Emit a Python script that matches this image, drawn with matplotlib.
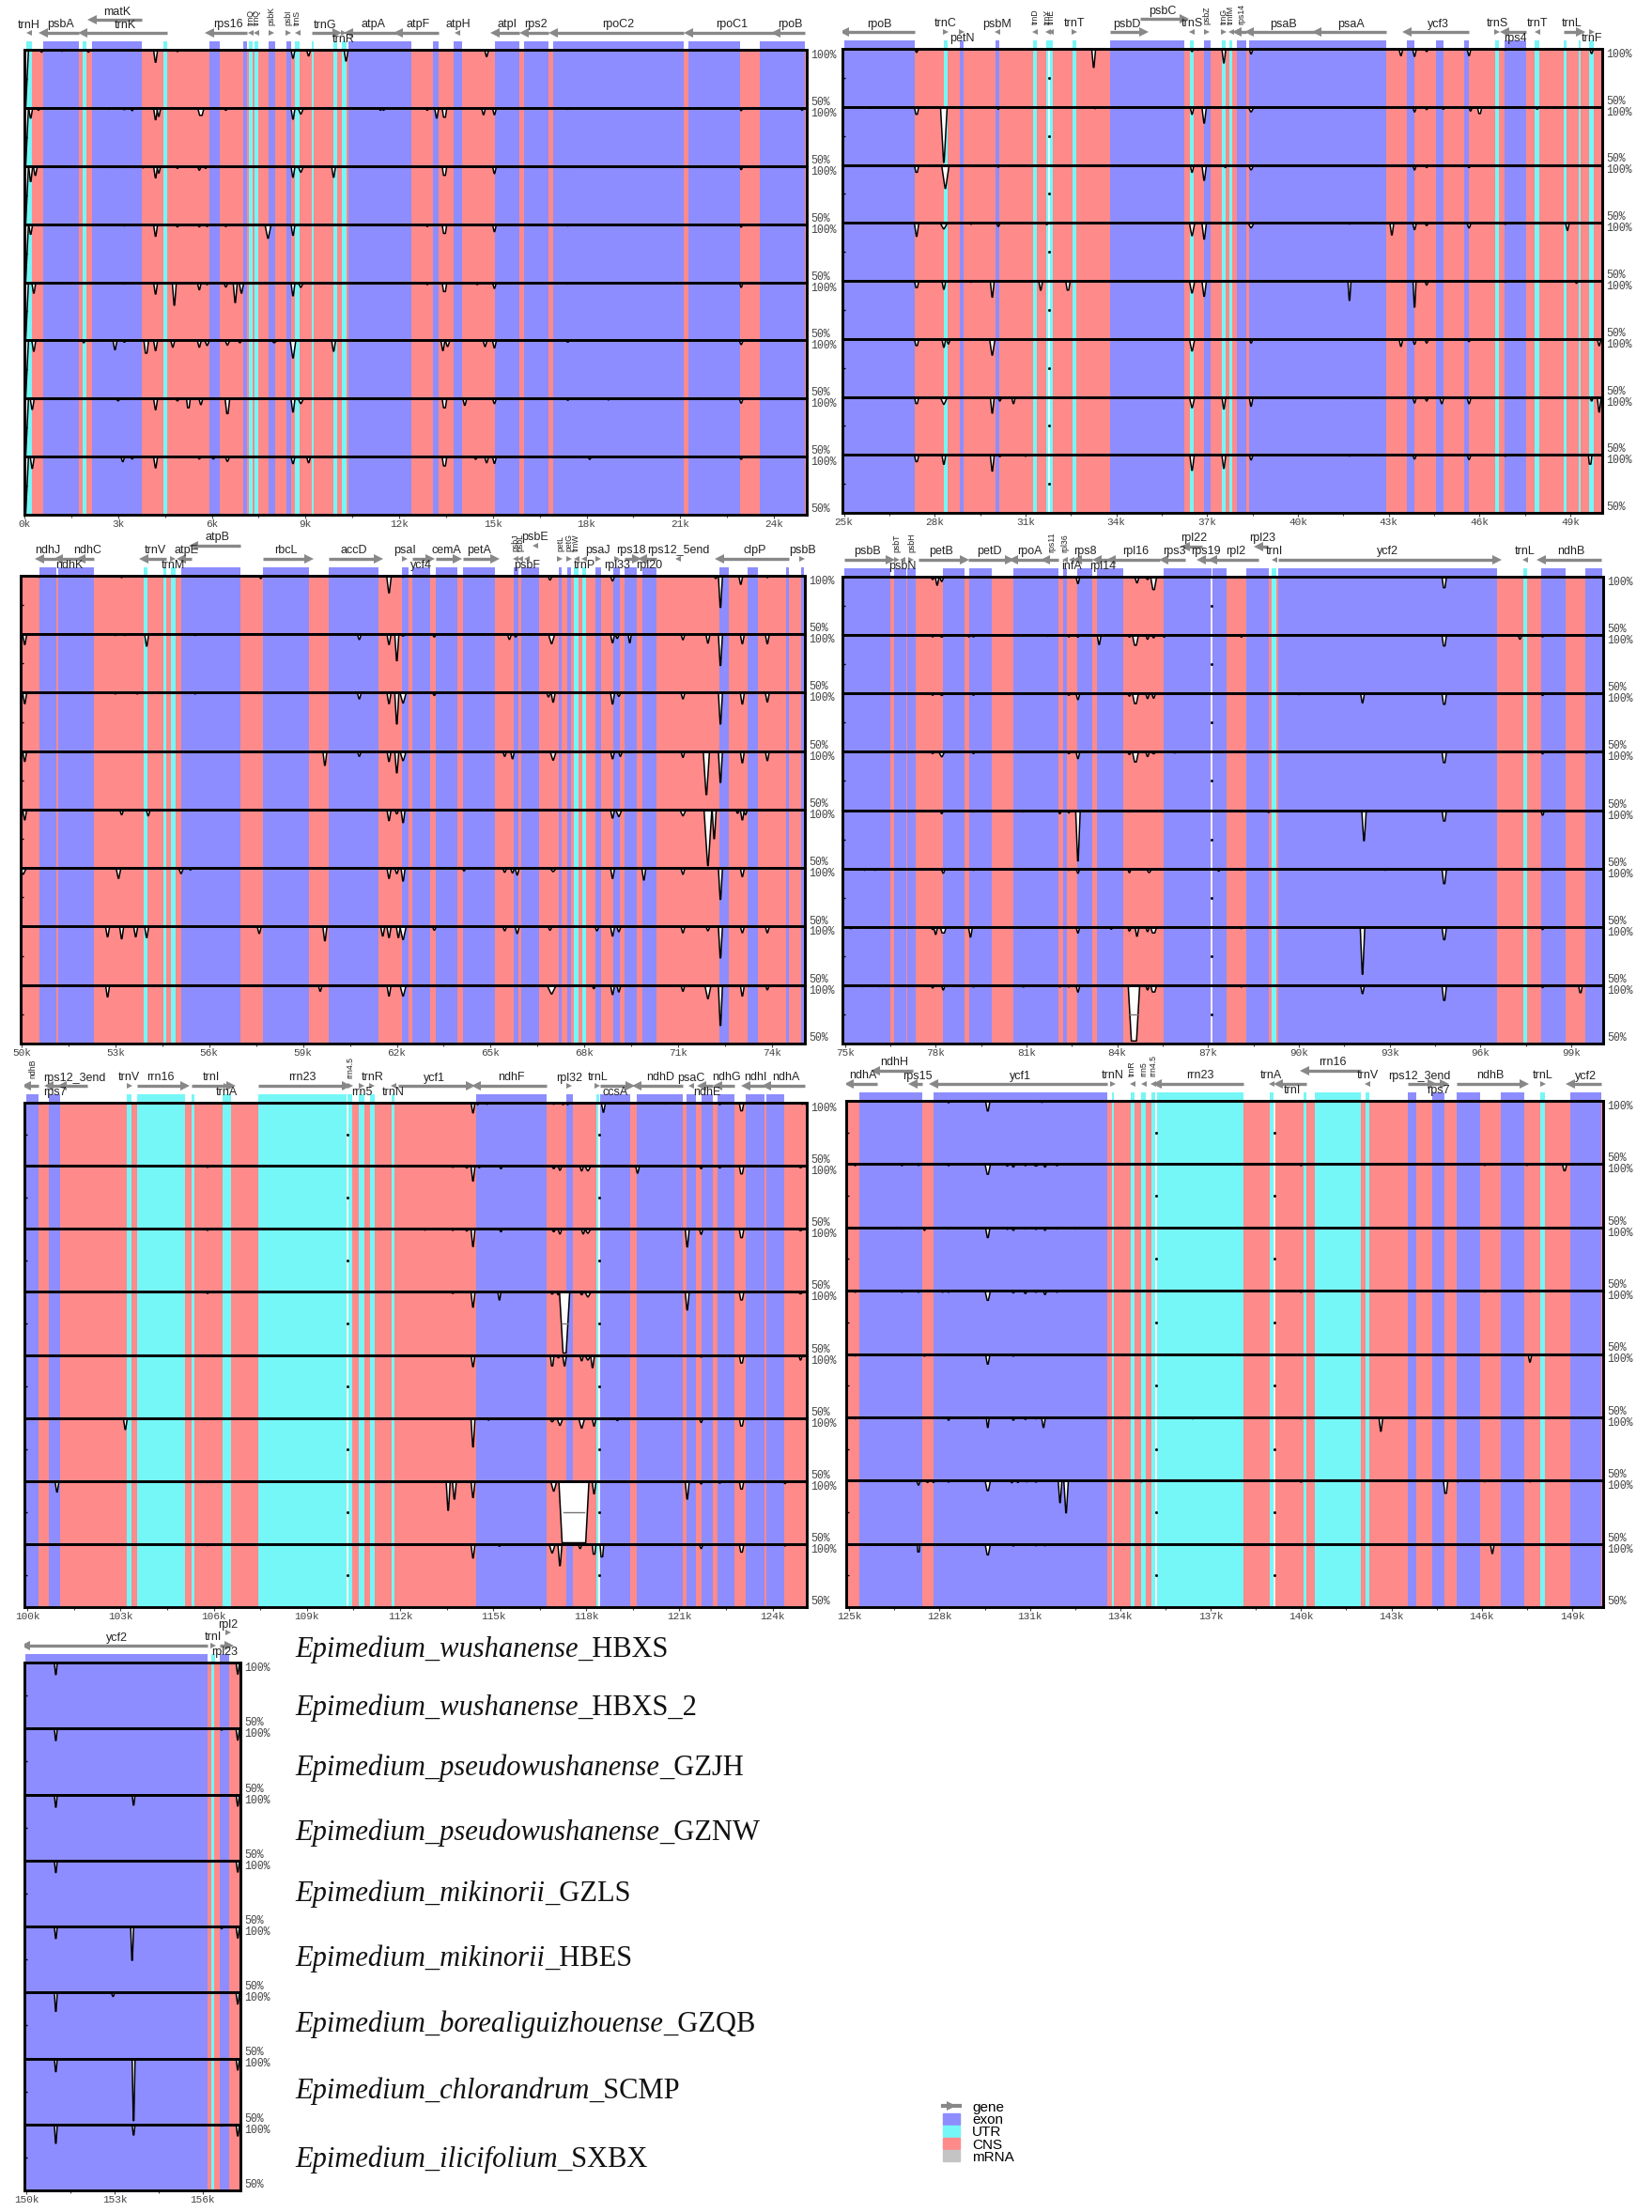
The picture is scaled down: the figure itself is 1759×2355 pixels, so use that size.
import numpy as np
import matplotlib
matplotlib.use("Agg")
import matplotlib.pyplot as plt
from matplotlib.lines import Line2D
from matplotlib.patches import Patch
from matplotlib.ticker import FixedLocator

W, H = 1759, 2355
EXON = "#8D8DFF"
UTR = "#75F7F7"
CNS = "#FF8A8A"
MRNA = "#C4C4C4"
GENE = "#888888"
SANS = "Liberation Sans"
MONO = "Liberation Mono"

# gene label placement
TOP, BELOW, UPPER, ROT = 0, -1, 1, 2
L, R = -1, 1

species_names = ["Epimedium_wushanense", "Epimedium_wushanense", "Epimedium_pseudowushanense",
                 "Epimedium_pseudowushanense", "Epimedium_mikinorii", "Epimedium_mikinorii",
                 "Epimedium_borealiguizhouense", "Epimedium_chlorandrum", "Epimedium_ilicifolium"]
sample_codes = ["_HBXS", "_HBXS_2", "_GZJH", "_GZNW", "_GZLS", "_HBES", "_GZQB", "_SCMP", "_SXBX"]

# ---- 0k-25k
exon1 = [(.59, 1.74), (2.16, 3.77), (5.93, 6.27), (7.01, 7.13), (7.82, 8.02), (8.38, 8.53), (10.37, 12.4),
         (13.07, 13.26), (13.73, 14.02), (15.07, 15.86), (16.0, 16.77), (16.94, 21.11), (21.25, 22.9), (23.56, 25.0)]
utr1 = [(.07, .24), (1.86, 1.98), (4.46, 4.58), (7.2, 7.31), (7.36, 7.5), (8.67, 8.82), (9.2, 9.26),
        (9.9, 10.02), (10.15, 10.3)]
gaps1 = []
genes1 = [("trnH", .07, .24, L, TOP), ("psbA", .59, 1.74, L, TOP), ("matK", 2.16, 3.77, L, UPPER),
          ("trnK", 1.86, 4.58, L, TOP), ("rps16", 5.93, 7.13, L, TOP), ("trnQ", 7.2, 7.31, L, ROT),
          ("trnQ", 7.36, 7.5, L, ROT), ("psbK", 7.82, 8.02, R, ROT), ("psbI", 8.38, 8.53, R, ROT),
          ("trnS", 8.67, 8.82, L, ROT), ("trnG", 9.2, 10.02, R, TOP), ("trnR", 10.15, 10.3, R, BELOW),
          ("atpA", 10.37, 11.97, L, TOP), ("atpF", 11.97, 13.26, L, TOP), ("atpH", 13.73, 14.02, L, TOP),
          ("atpI", 15.07, 15.86, L, TOP), ("rps2", 16.0, 16.77, L, TOP), ("rpoC2", 16.94, 21.11, L, TOP),
          ("rpoC1", 21.25, 24.06, L, TOP), ("rpoB", 24.06, 25.0, L, TOP)]
dips1 = [
    [(.03, 50, .2), (.55, 98), (1.2, 98.8), (2.05, 98), (4.2, 89.3), (4.9, 98.5), (8.6, 92.8), (9.1, 94.8),
     (10.3, 90.4), (14.8, 94.2)],
    [(.03, 50, .2), (.2, 91.3), (.45, 98), (2.7, 98.8), (3.2, 98.5), (3.45, 97.7), (4.2, 89.9), (4.3, 92.8),
     (5.65, 93.6, .2, .08), (6.45, 98, .15), (8.6, 90.4), (8.85, 94.8, .18), (9.0, 98.8), (11.4, 98), (11.5, 98),
     (12.9, 98), (13.2, 91.3), (13.45, 92, .15, .06), (14.7, 94.2), (15.05, 94.2), (17.4, 98.8), (22.95, 97.7, .12),
     (24.9, 98)],
    [(.03, 50, .2), (.2, 86.7), (.35, 92), (2.7, 98.8), (3.2, 98.8), (3.8, 98.5), (4.2, 89.9), (4.3, 94), (4.9, 98),
     (5.6, 96.5), (5.8, 98), (8.6, 90.4), (8.85, 94.8, .18), (9.9, 90.4), (13.45, 92, .15, .06), (15.05, 93.6),
     (17.4, 98.8), (22.95, 97, .12)],
    [(.03, 50, .2), (.2, 91.3), (3.2, 98.5), (4.2, 89.6), (4.9, 97.7, .15), (5.6, 97.7), (5.85, 98), (6.45, 98, .15),
     (7.8, 87.9, .2, .02), (8.6, 90.4), (12.9, 98), (13.45, 92, .15, .06), (15.05, 93.6), (17.4, 98.5),
     (22.95, 97.5, .12)],
    [(.03, 50, .2), (.3, 90.7), (3.2, 98.5), (4.2, 89.9), (4.8, 80.3), (5.6, 93.6), (5.85, 98), (6.45, 96, .15),
     (6.75, 82.6), (6.95, 90.7, .15), (8.6, 88.4), (8.85, 95.7, .18), (12.9, 98), (13.45, 92, .15, .06),
     (14.5, 98, .15), (15.05, 94.8), (17.4, 98.5), (22.95, 95.7, .13)],
    [(.03, 50, .2), (.3, 90.7), (1.9, 98), (2.9, 92), (3.2, 98.5), (3.9, 89, .15, .05), (4.2, 91.3), (4.75, 94.2),
     (5.6, 94.2), (5.85, 95.7, .15), (6.5, 96, .15), (6.9, 98), (8.0, 98, .2), (8.6, 84.9, .18), (9.9, 90.7),
     (13.4, 91.3), (13.55, 94.8, .15), (14.75, 94.8), (15.05, 93.6), (17.4, 98.5), (22.95, 96.5, .13)],
    [(.03, 50, .2), (.25, 90.7), (3.0, 98, .15), (4.2, 90.4), (4.9, 98, .15), (5.25, 92, .12, .05), (5.65, 94.8),
     (6.5, 87, .15, .04), (8.6, 88.4), (8.85, 95.7, .18), (13.45, 92, .15, .06), (14.1, 94.2), (15.05, 95.7),
     (17.4, 98.5), (18.7, 98.8), (22.95, 96, .13)],
    [(.03, 50, .2), (.25, 89.9), (3.15, 95.7), (3.45, 98), (4.2, 90.4), (5.6, 98), (6.05, 98), (6.5, 96, .15),
     (8.6, 94), (9.1, 94.8), (13.45, 92, .15, .06), (14.45, 97.7), (14.8, 94.8), (15.05, 94.2), (18.1, 97.7),
     (22.95, 97.7, .12)],
]

# ---- 25k-50k
exon2 = [(25, 27.35), (28.83, 28.95), (30, 30.13), (33.8, 36.25), (36.88, 37.12), (37.97, 38.3), (38.39, 42.9),
         (43.6, 43.85), (44.56, 44.8), (45.5, 45.64), (46.83, 47.55)]
utr2 = [(28.3, 28.43), (31.26, 31.38), (31.68, 31.89), (32.55, 32.67), (36.43, 36.55), (37.49, 37.6), (37.73, 37.83),
        (46.51, 46.65), (47.83, 47.97), (48.77, 48.88), (49.26, 49.35), (49.63, 49.78)]
gaps2 = [31.78]
genes2 = [("rpoB", 25, 27.35, L, TOP), ("trnC", 28.3, 28.43, R, TOP), ("petN", 28.83, 28.95, R, BELOW),
          ("psbM", 30, 30.13, L, TOP), ("trnD", 31.26, 31.38, L, ROT), ("trnY", 31.68, 31.78, L, ROT),
          ("trnE", 31.79, 31.89, L, ROT), ("trnT", 32.55, 32.67, R, TOP), ("psbD", 33.8, 34.9, R, TOP),
          ("psbC", 34.8, 36.25, R, UPPER), ("trnS", 36.43, 36.55, L, TOP), ("psbZ", 36.88, 37.12, R, ROT),
          ("trnG", 37.49, 37.6, R, ROT), ("trnfM", 37.73, 37.83, L, ROT), ("rps14", 37.97, 38.3, L, ROT),
          ("psaB", 38.39, 40.63, L, TOP), ("psaA", 40.63, 42.9, L, TOP), ("ycf3", 43.6, 45.64, L, TOP),
          ("trnS", 46.51, 46.65, R, TOP), ("rps4", 46.83, 47.55, L, BELOW), ("trnT", 47.83, 47.97, L, TOP),
          ("trnL", 48.77, 49.35, R, TOP), ("trnF", 49.63, 49.78, R, BELOW)]
dips2 = [
    [(27.4, 97), (29.2, 99), (33.25, 84), (36.5, 97.7), (36.7, 98.8), (37.55, 87.9), (38.45, 95.7), (41.7, 99),
     (43.4, 94.2), (43.85, 93.6), (44.25, 97.7), (45.65, 94.2), (46.85, 98.8), (49.7, 96)],
    [(25.9, 98.8), (27.4, 93.6, .15, .05), (28.3, 52.2, .22), (29.2, 98.8), (30.1, 98), (33.3, 98.5), (36.5, 93.6),
     (36.9, 86, .15), (38.45, 95.7, .2), (41.7, 99), (43.85, 95.7), (44.25, 97.7), (44.8, 98, .2), (45.7, 96.5),
     (46.0, 94.2, .15, .05), (46.85, 98.8), (47.9, 98, .15)],
    [(27.4, 93.6, .15, .05), (28.35, 79.7, .25), (29.2, 98.8), (30.1, 98), (36.5, 93.6), (36.9, 86.7, .15), (37.6, 97.7),
     (38.45, 95.7, .2), (41.7, 99), (43.85, 95.7), (44.25, 97.7), (45.65, 97.7, .2), (46.85, 98.8)],
    [(27.4, 88.4, .15), (28.3, 94.8, .25), (29.2, 98.8), (30.1, 97), (31.7, 98.5), (36.5, 89, .18), (36.9, 86, .15),
     (38.45, 95.7, .2), (41.7, 99), (43.1, 89.6), (43.85, 94.2), (44.25, 97.7), (45.65, 95.7, .15), (46.85, 98.8),
     (48.9, 93.6)],
    [(27.4, 94.2, .15, .05), (28.3, 92.8), (29.2, 98.8), (29.9, 86), (31.5, 92), (32.4, 92, .15, .05), (36.5, 89.6, .18),
     (36.9, 86.7, .15), (41.7, 83.2, .1), (43.85, 77.4, .1), (44.25, 96.5), (46.85, 98.8), (49.2, 98)],
    [(27.4, 94.2, .15, .05), (28.3, 92.8), (28.45, 95.7), (29.9, 86, .18), (36.5, 89.6, .18), (38.45, 96.5), (41.7, 99),
     (43.4, 93.6), (43.85, 95.4), (44.25, 96.5, .15), (45.65, 97.7, .15), (46.85, 98.8), (49.95, 94.2)],
    [(27.4, 94.2, .15, .05), (28.3, 93.6, .25), (29.9, 86), (30.15, 96.5, .15), (30.6, 94.2), (36.5, 90.7, .18),
     (37.55, 89.6), (38.45, 92), (41.7, 99), (43.85, 94.8), (44.25, 96.5, .15), (44.75, 94.2, .15), (45.65, 94.2, .15),
     (46.85, 98.8), (49.7, 96.5), (49.95, 87)],
    [(27.4, 94.2, .15, .05), (28.3, 91.9), (29.9, 86), (30.15, 98.5), (31.0, 98.8), (36.5, 86.7, .15), (37.55, 88.4),
     (38.45, 95.7), (41.7, 99), (43.85, 96.5), (45.65, 96), (46.85, 98.8), (49.65, 92, .12, .05)],
]

# ---- 50k-75k
exon3 = [(50.57, 51.1), (51.16, 52.31), (55.11, 57.0), (57.72, 59.19), (59.81, 61.42), (62.17, 62.36), (62.5, 63.07),
         (63.24, 63.93), (64.11, 65.13), (65.75, 65.89), (65.99, 66.54), (67.17, 67.28), (67.44, 67.57), (68.35, 68.52),
         (68.92, 69.14), (69.29, 69.66), (69.86, 70.29), (72.33, 72.61), (73.22, 73.56), (74.45, 74.55), (74.92, 75.02)]
utr3 = [(53.91, 54.03), (54.54, 54.64), (54.77, 54.92), (67.67, 67.82), (67.92, 68.06)]
gaps3 = []
genes3 = [("ndhJ", 50.57, 51.1, L, TOP), ("ndhK", 51.16, 51.9, L, BELOW), ("ndhC", 51.9, 52.31, L, TOP),
          ("trnV", 53.91, 54.64, L, TOP), ("trnM", 54.77, 54.92, R, BELOW), ("atpE", 55.11, 55.45, L, TOP),
          ("atpB", 55.5, 57.0, L, UPPER), ("rbcL", 57.72, 59.19, R, TOP), ("accD", 59.81, 61.42, R, TOP),
          ("psaI", 62.17, 62.36, R, TOP), ("ycf4", 62.5, 63.07, R, BELOW), ("cemA", 63.24, 63.93, R, TOP),
          ("petA", 64.11, 65.13, R, TOP), ("psbJ", 65.75, 65.85, L, ROT), ("psbL", 65.9, 65.99, L, ROT),
          ("psbF", 66.1, 66.2, L, BELOW), ("psbE", 66.3, 66.54, L, UPPER), ("petL", 67.17, 67.28, R, ROT),
          ("petG", 67.44, 67.57, R, ROT), ("trnW", 67.67, 67.82, L, ROT), ("trnP", 67.92, 68.06, L, BELOW),
          ("psaJ", 68.35, 68.52, R, TOP), ("rpl33", 68.92, 69.14, R, BELOW), ("rps18", 69.29, 69.66, R, TOP),
          ("rpl20", 69.86, 70.29, L, BELOW), ("rps12_5end", 70.95, 71.06, L, TOP), ("clpP", 72.33, 74.55, L, TOP),
          ("psbB", 74.92, 75.02, R, TOP)]
dips3 = [
    [(50.55, 98.8), (53.2, 98.5), (55.65, 99), (57.65, 97.7, .12), (61.75, 85.4, .15), (62.2, 98.8), (66.9, 96.5, .15),
     (68.9, 95.7, .15), (72.2, 97.7), (72.35, 73), (73.0, 92.8), (73.85, 98.5)],
    [(50.1, 91.3), (53.0, 99), (53.3, 99), (54.0, 89.9), (55.55, 99), (60.8, 95.6), (61.75, 91.3), (62.0, 77.4),
     (62.2, 98.5, .2), (63.2, 97.7), (65.6, 95.7), (65.8, 97.7), (66.95, 92, .2), (68.9, 92.8), (69.05, 96.5),
     (69.45, 92.8, .1), (71.15, 95.4), (71.95, 92.5), (72.35, 73.3), (73.05, 92), (73.85, 92)],
    [(50.1, 90.7), (53.0, 99), (53.7, 99), (55.55, 99), (60.8, 94.8), (61.75, 90.7), (62.0, 73.3), (62.2, 91.3, .2),
     (63.2, 97.7), (66.85, 96.5), (67.0, 92), (68.9, 90.4), (69.1, 97), (71.15, 94.8), (72.35, 73.3), (73.05, 90.4),
     (73.85, 92.2)],
    [(50.1, 91.3), (53.0, 99), (53.7, 99), (55.55, 99), (59.7, 87.9), (60.8, 95.7), (61.75, 91.3), (62.0, 81.5),
     (62.2, 92, .2), (65.45, 95.7), (65.7, 93.6), (67.0, 92.4, .2), (68.9, 93.6), (69.15, 95.7), (71.15, 94.8),
     (71.9, 62.9, .2), (72.35, 73.3), (73.05, 90.1), (73.85, 92)],
    [(50.1, 91.3), (53.2, 95.7), (54.05, 94.8), (61.75, 90.7), (62.0, 96.5), (62.2, 89), (68.9, 92.8),
     (69.1, 94.2, .2), (71.15, 94.8, .2), (71.95, 52.2, .25), (72.15, 75.2), (72.9, 97), (73.05, 91.3), (73.15, 95.7)],
    [(50.05, 94.8, .2), (53.1, 91.3, .15), (55.1, 95.4, .15), (55.4, 98.5, .15), (61.75, 91.3), (62.0, 95.4), (62.2, 89),
     (64.15, 97.7), (65.45, 96.5), (65.7, 96), (65.85, 94.2), (67.0, 97, .2), (68.9, 91.3), (69.9, 89.9), (71.15, 94.8),
     (72.35, 73.3), (73.05, 92.8)],
    [(52.75, 91.3), (53.2, 89.6), (53.65, 91.3), (54.0, 90.7), (57.6, 94.2), (59.7, 87.9), (61.55, 92), (61.75, 90.7),
     (62.05, 90.7), (62.2, 89, .2), (63.2, 97), (65.45, 96.5), (65.85, 94.2), (66.9, 97), (68.4, 96.5), (68.9, 92),
     (69.1, 95.7), (71.15, 94.8), (71.95, 96.5), (72.35, 73.3), (73.05, 94.8), (73.85, 94.8)],
    [(52.75, 89.9), (59.55, 94.8), (61.75, 90.7), (62.2, 90.7, .2), (50.1, 99), (66.95, 92.4, .3), (68.3, 97), (68.9, 92),
     (69.1, 94.2), (71.15, 94.8), (71.95, 88.4, .2), (72.35, 65.5), (73.05, 90.7), (73.85, 96)],
]

# ---- 75k-100k
exon4 = [(74.97, 76.5), (76.62, 77.02), (77.05, 77.35), (78.24, 78.95), (79.12, 79.86), (80.57, 82.07), (82.2, 82.33),
         (82.69, 83.18), (83.32, 84.2), (85.53, 87.1), (87.15, 87.62), (88.25, 89.0), (89.33, 96.53), (98.01, 98.81),
         (99.47, 100.03)]
utr4 = [(89.1, 89.26), (97.4, 97.54)]
gaps4 = [87.12]
genes4 = [("psbB", 74.97, 76.5, R, TOP), ("psbT", 76.62, 76.8, R, ROT), ("psbN", 76.8, 77.02, L, BELOW),
          ("psbH", 77.05, 77.35, R, ROT), ("petB", 77.43, 78.95, R, TOP), ("petD", 79.09, 80.43, R, TOP),
          ("rpoA", 80.57, 81.62, L, TOP), ("rps11", 81.62, 82.07, L, ROT), ("rpl36", 82.2, 82.33, L, ROT),
          ("infA", 82.45, 82.55, L, BELOW), ("rps8", 82.69, 83.18, L, TOP), ("rpl14", 83.32, 83.75, L, BELOW),
          ("rpl16", 83.79, 85.4, L, TOP), ("rps3", 85.53, 86.25, L, TOP), ("rpl22", 86.23, 86.8, L, UPPER),
          ("rps19", 86.77, 87.1, L, TOP), ("rpl2", 87.15, 88.65, L, TOP), ("rpl23", 88.65, 88.96, L, UPPER),
          ("trnI", 89.1, 89.26, L, TOP), ("ycf2", 89.33, 96.53, R, TOP), ("trnL", 97.4, 97.54, L, TOP),
          ("ndhB", 98.01, 100.0, L, TOP)]
dips4 = [
    [(77.9, 97.7), (78.05, 92.8), (78.2, 96, .15), (79.0, 99), (82.15, 98.8), (82.7, 94.2), (84.65, 94.8, .15),
     (85.0, 97.7, .15), (85.2, 89, .2, .05), (94.8, 90.6, .15, .05)],
    [(77.9, 98.5), (78.2, 98.3, .2), (79.1, 98.5), (79.25, 98.5), (81.7, 99), (82.4, 98.5, .15), (82.7, 98.3),
     (83.4, 92), (84.4, 98.3), (84.6, 91.3, .2, .06), (85.0, 96.5), (85.2, 97.7), (85.55, 98.3), (88.1, 98.3),
     (94.8, 90.7, .15, .05), (97.3, 96.5), (98.05, 98.5), (99.5, 99)],
    [(77.9, 98.5), (78.2, 98.3, .2), (79.25, 98.5), (82.4, 98.5, .15), (82.7, 94.8), (84.4, 97.7), (84.6, 91.3, .2, .06),
     (85.0, 95.7), (85.2, 96), (90.0, 99), (92.1, 92), (94.8, 90.7, .15, .05), (98.05, 98.3), (99.5, 99)],
    [(77.9, 98.5), (78.2, 95.7, .2), (79.25, 98.5), (82.4, 98.5, .15), (82.7, 94.2), (84.4, 97.7), (84.6, 91.3, .2, .06),
     (85.0, 96), (85.2, 98.3, .2), (85.9, 99), (94.8, 90.7, .15, .05), (98.05, 98.3), (99.5, 99)],
    [(75.05, 98.5), (77.1, 98.5, .2), (78.2, 97), (79.25, 98.5), (80.9, 98.5, .15), (82.1, 97), (82.4, 97.7),
     (82.7, 56.5, .15), (84.4, 98.5), (85.5, 98.5), (88.1, 98.5), (89.0, 98, .15), (92.15, 73.8, .15),
     (94.8, 90.7, .15, .05), (97.1, 98.8), (98.05, 95.7), (99.5, 99)],
    [(75.65, 98.5), (76.0, 98.5), (78.25, 96, .15), (79.25, 98.5, .15), (82.4, 98.5, .15), (82.7, 96),
     (83.4, 98.8), (84.4, 96.5), (85.05, 96.5, .2), (87.35, 97.7), (88.1, 98.5), (92.85, 98.5), (94.8, 87, .15, .04),
     (98.05, 98.5), (99.5, 99)],
    [(75.2, 98.5), (75.4, 98.8), (75.9, 98.8), (77.9, 97.7), (78.0, 93.6), (78.25, 94.8, .2, .08), (79.15, 91.3),
     (80.9, 98.8), (82.7, 94.8), (83.8, 98), (84.4, 96.5), (84.65, 92), (85.0, 96), (85.2, 94.8, .2, .08), (88.1, 98.5),
     (92.1, 59.4, .15), (94.8, 89, .15, .04), (98.05, 97.7), (99.5, 99)],
    [(75.55, 98.8), (76.15, 98.8), (77.1, 98.8), (77.9, 97.7), (78.25, 96), (79.25, 98.5), (80.9, 98.5, .2), (82.1, 98.5),
     (82.4, 98.5), (82.7, 94.2), (84.55, 52.2, .38, .17), (85.0, 96), (85.2, 94.2, .2, .08), (88.1, 98.5), (92.1, 92.8),
     (94.8, 87, .15, .04), (98.05, 98), (99.3, 93.6, .13, .04)],
]

# ---- 100k-125k
exon5 = [(99.97, 100.36), (100.7, 101.05), (114.45, 116.72), (117.35, 117.57), (118.44, 119.42), (119.63, 121.12),
         (121.24, 121.53), (121.72, 122.07), (122.24, 122.78), (123.14, 123.74), (123.8, 124.36)]
utr5 = [(103.21, 103.35), (103.53, 105.06), (105.28, 105.38), (106.28, 106.55), (107.42, 110.29), (110.32, 110.46),
        (110.66, 110.85), (111.03, 111.17), (111.73, 111.83), (118.32, 118.4)]
gaps5 = [110.3, 118.42]
genes5 = [("ndhB", 99.97, 100.36, L, ROT), ("rps7", 100.7, 101.05, L, BELOW), ("rps12_3end", 101.12, 101.92, L, TOP),
          ("trnV", 103.21, 103.35, R, TOP), ("rrn16", 103.53, 105.06, R, TOP), ("trnI", 105.28, 106.55, R, TOP),
          ("trnA", 106.28, 106.55, R, BELOW), ("rrn23", 107.42, 110.29, R, TOP), ("rrn4.5", 110.32, 110.46, R, ROT),
          ("rrn5", 110.66, 110.85, R, BELOW), ("trnR", 111.03, 111.17, R, TOP), ("trnN", 111.73, 111.83, L, BELOW),
          ("ycf1", 111.94, 114.26, R, TOP), ("ndhF", 114.45, 116.72, L, TOP), ("rpl32", 117.35, 117.57, R, TOP),
          ("trnL", 118.32, 118.4, R, TOP), ("ccsA", 118.44, 119.42, R, BELOW), ("ndhD", 119.63, 121.12, L, TOP),
          ("psaC", 121.24, 121.53, L, TOP), ("ndhE", 121.72, 122.07, L, BELOW), ("ndhG", 122.24, 122.78, L, TOP),
          ("ndhI", 123.14, 123.74, L, TOP), ("ndhA", 123.8, 125.05, L, TOP)]
dips5 = [
    [(100.4, 99), (114.35, 92), (114.5, 98.5), (114.8, 98.8), (116.95, 98.8), (117.25, 98.5), (117.4, 98.5), (118.55, 92.5),
     (120.55, 99), (121.7, 99), (122.3, 98.5), (123.0, 93.6, .15, .05), (124.95, 98.8), (125.05, 98.8)],
    [(105.8, 98.8), (113.7, 98.8), (114.15, 98.3), (114.35, 87.9), (114.55, 98.5), (115.25, 97.7, .12), (116.95, 97.7, .15),
     (117.15, 96.5), (117.85, 96), (118.05, 96, .2), (119.65, 94.2), (121.7, 97.7, .12), (122.3, 98.3), (123.0, 93.6, .15, .05),
     (124.9, 98.5, .2)],
    [(105.8, 98.8), (112.8, 99), (113.7, 98.8), (114.15, 98.3), (114.35, 86), (115.25, 97.7, .12), (116.95, 97.7, .15),
     (117.15, 96), (117.9, 96), (118.05, 96.5, .2), (121.25, 85.7), (121.7, 95.7, .12), (123.0, 93, .15, .05), (124.9, 98.5, .2)],
    [(105.8, 98.8), (113.7, 98.8), (114.35, 87.9), (115.2, 93.6, .1), (116.9, 98.3, .15), (117.1, 97.7), (117.3, 51.5, .33, .1),
     (117.85, 97.7), (118.05, 96, .2), (121.25, 85.7), (123.0, 93.6, .15, .05), (124.9, 98.5, .2)],
    [(100.4, 99), (105.8, 98.8), (106.05, 98.8), (114.35, 90.7), (116.9, 91.3, .12, .04), (117.1, 97.7), (117.3, 91.3),
     (117.85, 95.4), (118.05, 96, .2), (118.2, 89.9), (121.7, 98.3, .2), (123.0, 93.6, .15, .05), (124.9, 96)],
    [(100.4, 99), (102.75, 99), (103.15, 90.9), (105.8, 98.8), (109.25, 99.4), (114.35, 77.1), (114.85, 98.3),
     (116.9, 97, .2), (117.15, 94.2, .2), (117.85, 92, .2), (118.25, 93.6), (119.0, 98, .2), (121.7, 96.5), (123.0, 93.6, .15, .05)],
    [(100.95, 91.3), (105.8, 98.8), (110.9, 98.8), (113.55, 76.8), (113.75, 85.7), (114.35, 86.9), (116.95, 92, .2),
     (117.6, 51, .97, .76), (118.25, 89.9), (121.25, 85.7), (121.7, 97.7), (122.3, 98.3), (123.0, 93.6, .15, .05), (124.4, 98, .15)],
    [(105.8, 98.8), (114.35, 89), (115.2, 98.3, .15), (116.9, 93, .2), (117.15, 82.9), (117.8, 96.5), (118.25, 92, .12, .05),
     (118.5, 89.9, .12, .05), (121.7, 96.5), (123.0, 93.6, .15, .05), (124.4, 98.5)],
]

# ---- 125k-150k
exon6 = [(125.35, 127.43), (127.81, 133.57), (143.53, 143.81), (144.35, 144.77), (145.16, 145.96), (146.63, 147.41),
         (148.93, 149.98)]
utr6 = [(133.71, 133.79), (134.35, 134.46), (134.7, 134.84), (135.02, 135.16), (135.21, 138.09), (138.95, 139.09),
        (140.09, 140.19), (140.47, 141.98), (142.15, 142.26), (147.95, 148.09)]
gaps6 = [135.18, 139.12]
genes6 = [("ndhA", 124.98, 125.93, L, TOP), ("ndhH", 125.86, 127.1, L, UPPER), ("rps15", 127.1, 127.43, L, TOP),
          ("ycf1", 127.81, 133.57, L, TOP), ("trnN", 133.71, 133.79, R, TOP), ("trnR", 134.35, 134.46, L, ROT),
          ("rrn5", 134.7, 134.84, L, ROT), ("rrn4.5", 135.02, 135.16, L, ROT), ("rrn23", 135.21, 138.09, L, TOP),
          ("trnA", 138.95, 139.09, L, TOP), ("trnI", 139.23, 140.19, L, BELOW), ("rrn16", 140.12, 141.98, L, UPPER),
          ("trnV", 142.15, 142.26, L, TOP), ("rps12_3end", 143.53, 144.35, R, TOP), ("rps7", 144.35, 144.77, R, BELOW),
          ("ndhB", 145.16, 147.41, R, TOP), ("trnL", 147.95, 148.09, R, TOP), ("ycf2", 148.93, 149.98, L, TOP)]
dips6 = [
    [(128.3, 98.5), (129.6, 92, .15, .03), (131.4, 98.8)],
    [(125.2, 98.8), (126.75, 98.8), (127.3, 99), (128.3, 98.8), (129.6, 92, .18, .04), (130.25, 98.5), (130.45, 97.7),
     (130.85, 98.8), (131.2, 98.5, .25), (131.5, 97.7), (131.9, 98.8), (140.0, 98.8), (146.1, 99), (147.5, 99),
     (148.75, 94.8, .15, .04)],
    [(125.2, 98.8), (126.75, 98.8), (127.3, 98.8), (127.5, 97.7), (128.3, 98.8), (129.6, 92, .15, .03), (130.25, 98.5),
     (130.45, 97.7, .15), (130.85, 98.8, .15), (131.2, 98.5, .25), (131.5, 97.7), (131.9, 98.8), (132.5, 98.8, .12), (140.0, 98.8),
     (146.1, 99), (147.6, 99)],
    [(125.2, 98.8), (126.75, 98.8), (127.3, 98.8), (128.1, 98.8), (128.3, 98.8), (129.6, 92.4, .18, .04), (130.45, 98.3, .15),
     (130.85, 97.7), (131.2, 98.8, .25), (131.5, 97), (131.9, 98.8), (140.0, 98.8), (146.1, 99), (147.6, 99)],
    [(125.2, 98.5, .15), (126.45, 99), (127.3, 98.8), (127.5, 98.3, .15), (127.85, 99), (128.3, 98.8), (129.6, 92, .15, .03),
     (130.45, 98.3, .15), (130.85, 99), (131.25, 98.8, .2), (131.5, 98.8), (139.75, 99), (140.0, 98.8), (145.2, 99), (146.1, 99),
     (147.6, 93.6)],
    [(125.2, 98.8), (127.45, 99), (128.3, 97.7), (128.8, 99), (129.1, 99), (129.6, 92, .1), (130.45, 97.7, .15), (130.85, 98.3),
     (131.2, 98.8, .2), (131.45, 92), (136.4, 98.8), (140.0, 98.8), (142.65, 89), (143.05, 99), (145.2, 99), (146.1, 99), (147.6, 99)],
    [(127.3, 96.5), (127.6, 98.5), (127.8, 98.5), (128.3, 98.8), (129.6, 92, .18, .04), (130.4, 98.3), (130.6, 98.5),
     (130.9, 99), (131.2, 98.8, .2), (132.0, 82.6, .12), (132.2, 74.5, .15), (134.7, 99), (140.0, 98.8), (144.8, 89.9, .15, .05),
     (145.2, 99), (146.1, 99), (147.6, 99)],
    [(125.9, 98.8), (126.3, 98.8), (127.3, 93.6, .08, .05), (128.3, 98.8), (128.85, 99), (129.6, 91.3, .18, .04), (130.45, 98.3, .15),
     (130.85, 98.8), (131.2, 98.5), (131.5, 98.5), (140.0, 98.8), (145.2, 99), (146.1, 98.8), (146.35, 92.4), (147.6, 99), (148.95, 99)],
]

# ---- 150k-157k
exon7 = [(149.96, 156.18), (156.57, 156.9)]
utr7 = [(156.3, 156.41)]
gaps7 = []
genes7 = [("ycf2", 149.96, 156.18, L, TOP), ("trnI", 156.3, 156.41, R, TOP), ("rpl23", 156.57, 156.9, R, BELOW),
          ("rpl2", 156.75, 157.0, R, UPPER)]
dips7 = [
    [(151.0, 90.9, .1), (157.2, 91.3, .12)],
    [(151.0, 90.9, .1), (156.65, 98.8), (157.2, 91.3, .12)],
    [(151.0, 90.4, .1), (153.65, 92, .1), (155.75, 98.8), (156.65, 98.8), (157.2, 91.3, .12)],
    [(151.0, 90.9, .1), (157.2, 91.3, .12)],
    [(151.0, 90.9, .1), (153.6, 74.3, .1), (156.65, 98.3), (157.2, 91.3, .12)],
    [(151.0, 85.7, .1), (152.95, 97), (157.2, 91.3, .12)],
    [(151.0, 90, .1), (153.65, 52.9, .1), (157.2, 91.3, .12)],
    [(151.0, 85.7, .1), (153.65, 92, .1), (156.65, 98.8), (157.2, 91.3, .12)],
]

# left, right, top, bottom in pixels, then x range in kb
panels = [
    (26, 859, 53, 548, 0, 25.05, exon1, utr1, gaps1, genes1, dips1),
    (897, 1706, 52, 546, 24.95, 50.05, exon2, utr2, gaps2, genes2, dips2),
    (22, 857, 613, 1111, 49.97, 75.05, exon3, utr3, gaps3, genes3, dips3),
    (897, 1707, 614, 1111, 74.92, 100.05, exon4, utr4, gaps4, genes4, dips4),
    (26, 859, 1174, 1711, 99.9, 125.1, exon5, utr5, gaps5, genes5, dips5),
    (901, 1707, 1172, 1711, 124.9, 150.03, exon6, utr6, gaps6, genes6, dips6),
    (26, 256, 1770, 2332, 149.93, 157.29, exon7, utr7, gaps7, genes7, dips7),
]
tick_starts = [0, 25, 50, 75, 100, 125, 150]

fig = plt.figure(figsize=(W / 100, H / 100), dpi=100, facecolor="white")


def box(left, right, top, bottom):
    return [left / W, 1 - bottom / H, (right - left) / W, (bottom - top) / H]


def draw_genes(ax, exons, utrs, genes):
    for s, e in exons:
        ax.fill_between([s, e], 1, 9, color=EXON, lw=0)
    for s, e in utrs:
        ax.fill_between([s, e], 1, 9, color=UTR, lw=0)
    for name, s, e, strand, place in genes:
        y = 32 if place == UPPER else 18
        tip = e if strand == R else s
        mid = (s + e) / 2
        mark = ">" if strand == R else "<"
        if e - s > 0.3:
            ax.plot([s, e], [y, y], color=GENE, lw=2.4, solid_capstyle="butt")
            ax.plot(tip, y, marker=mark, ms=6.5, color=GENE, mew=0)
        else:
            ax.plot(mid, y, marker=mark, ms=5, color=GENE, mew=0)
        if place == ROT:
            ax.text(mid, y + 8, name, rotation=90, ha="center", va="bottom", fontsize=6.3,
                    family=SANS, color="#222222", clip_on=False)
        elif place == BELOW:
            ax.text(mid, 11, name, ha="center", va="center", fontsize=9, family=SANS,
                    color="#222222", clip_on=False)
        else:
            ax.text(mid, y + 2.5, name, ha="center", va="bottom", fontsize=9, family=SANS,
                    color="#222222", clip_on=False)


def draw_row(ax, exons, utrs, gaps, dips):
    ax.set_facecolor(CNS)
    for s, e in exons:
        ax.axvspan(s, e, color=EXON, lw=0, zorder=1)
    for s, e in utrs:
        ax.axvspan(s, e, color=UTR, lw=0, zorder=1)
    for g in gaps:
        ax.axvline(g, color="white", lw=1.2, zorder=1.5)
        ax.plot(g, 75, marker="s", ms=1, color="black", zorder=1.6)
    for d in dips:
        p, low = d[0], d[1]
        w = d[2] if len(d) > 2 else 0.13
        flat = d[3] if len(d) > 3 else 0.02
        xs = [p - w / 2, p - flat / 2, p + flat / 2, p + w / 2]
        ys = [100, low, low, 100]
        ax.fill(xs, ys, color="white", lw=0, zorder=2)
        ax.plot(xs, ys, color="black", lw=1.1, zorder=3)
        if low < 70 and flat > 0.05:
            ax.plot([p - w / 3, p + w / 3], [75, 75], color="#777777", lw=1, zorder=3)
    ax.set_ylim(50, 100)
    ax.yaxis.tick_right()
    ax.set_yticks([50, 100])
    ax.set_yticklabels(["50%", "100%"], family=MONO, fontsize=8.3, color="#444444")
    labels = ax.get_yticklabels()
    labels[0].set_va("bottom")
    labels[1].set_va("top")
    ax.tick_params(axis="y", length=0, pad=3)
    ax.yaxis.set_minor_locator(FixedLocator([75]))
    ax.tick_params(axis="y", which="minor", left=True, right=False, direction="in", length=2.5, width=1)
    for sp in ax.spines.values():
        sp.set_linewidth(2.1)
        sp.set_color("black")


for (left, right, top, bottom, xmin, xmax, exons, utrs, gaps, genes, dips), t0 in zip(panels, tick_starts):
    gene_ax = fig.add_axes(box(left, right, top - 50, top))
    gene_ax.set_xlim(xmin, xmax)
    gene_ax.set_ylim(0, 50)
    gene_ax.axis("off")
    draw_genes(gene_ax, exons, utrs, genes)

    row_h = (bottom - top) / 8
    for i in range(8):
        ax = fig.add_axes(box(left, right, top + i * row_h, top + (i + 1) * row_h))
        ax.set_xlim(xmin, xmax)
        draw_row(ax, exons, utrs, gaps, dips[i])
        major = np.arange(t0, xmax, 3)
        minor = np.arange(t0, xmax, 1.5)
        ax.set_xticks(major)
        ax.set_xticks(minor, minor=True)
        if i == 7:
            ax.set_xticklabels([f"{int(k)}k" for k in major], family=MONO, fontsize=8, color="#444444")
            ax.tick_params(axis="x", which="major", length=3, width=0.8, pad=0.5, color="#444444")
            ax.tick_params(axis="x", which="minor", length=2, width=0.8, color="#444444")
        else:
            ax.tick_params(axis="x", which="both", length=0, labelbottom=False)

# species names, italic genus + species then the plain sample code on the same baseline
names_ax = fig.add_axes([0, 0, 1, 1])
names_ax.set_xlim(0, W)
names_ax.set_ylim(H, 0)
names_ax.axis("off")
name_y = [1764, 1826, 1890, 1959, 2024, 2093, 2163, 2234, 2307]
renderer = fig.canvas.get_renderer()
for y, nm, code in zip(name_y, species_names, sample_codes):
    t = names_ax.text(314, y, nm, family="Liberation Serif", style="italic", fontsize=22,
                      va="baseline", color="#111111")
    x_end = t.get_window_extent(renderer).x1
    names_ax.text(x_end, y, code, family="Liberation Serif", fontsize=22, va="baseline", color="#111111")

handles = [Line2D([0, 1], [0, 0], color=GENE, lw=3, marker=">", ms=7, mew=0, markevery=[1]),
           Patch(color=EXON), Patch(color=UTR), Patch(color=CNS), Patch(color=MRNA)]
fig.legend(handles, ["gene", "exon", "UTR", "CNS", "mRNA"], loc="upper left",
           bbox_to_anchor=(996 / W, 1 - 2229 / H), frameon=False,
           prop={"family": SANS, "size": 11}, labelspacing=-0.08, handlelength=1.2, handleheight=0.85,
           handletextpad=0.85, borderpad=0)

fig.savefig("out.png", dpi=100)
